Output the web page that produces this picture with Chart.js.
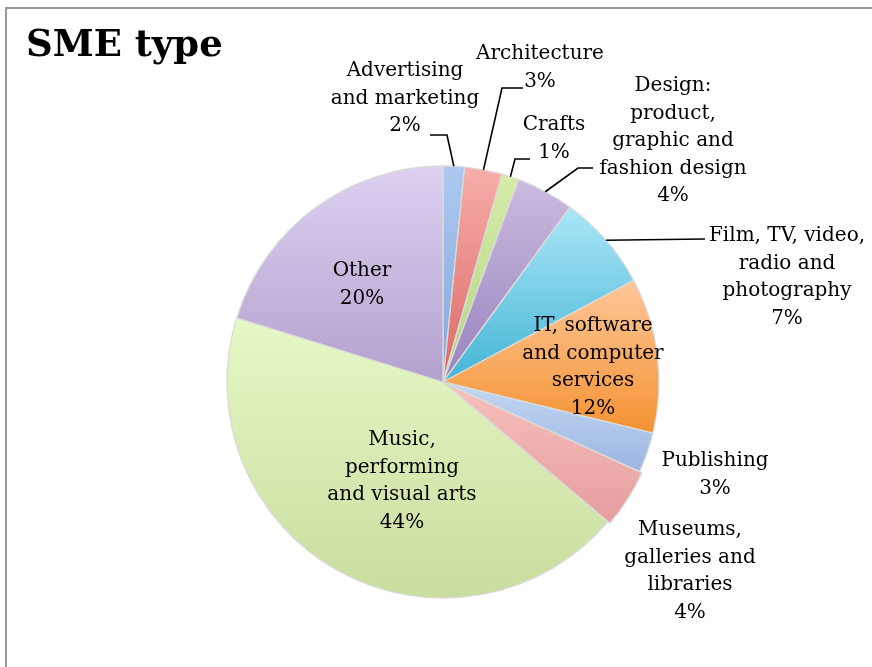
<!DOCTYPE html>
<html><head><meta charset="utf-8">
<script src="https://cdn.jsdelivr.net/npm/chart.js@4.4.0/dist/chart.umd.min.js"></script>
<style>html,body{margin:0;padding:0;background:#fff;} canvas{display:block;}</style>
</head><body>
<canvas id="c" width="872" height="667"></canvas>
<script>
// ---- data ----
const categories = ["Advertising and marketing","Architecture","Crafts","Design: product, graphic and fashion design","Film, TV, video, radio and photography","IT, software and computer services","Publishing","Museums, galleries and libraries","Music, performing and visual arts","Other"];
const shares = [1.6, 2.8, 1.3, 4.3, 7.2, 11.6, 3.0, 4.4, 43.6, 20.2];
const labelLines = [["Advertising","and marketing"],["Architecture"],["Crafts"],["Design:","product,","graphic and","fashion design"],["Film, TV, video,","radio and","photography"],["IT, software","and computer","services"],["Publishing"],["Museums,","galleries and","libraries"],["Music,","performing","and visual arts"],["Other"]];
const titleText = "SME type";

// ---- styles / layout ----
const colorTop    = ["#adc9f0","#f7aeaa","#d6eca8","#cbbce0","#ace6f8","#fdc799","#c3d7f4","#f8c0be","#e6f8c6","#ddd0f0"];
const colorBottom = ["#83a7dc","#dc6866","#b5d483","#9781bd","#43b5d4","#f59232","#9db6e1","#e59e9d","#cadd9e","#b3a1ce"];
const sliceOffsets = [0,0,0,0,0,0,0,6,0,0];
const PIE_RADIUS = 216;
const LINE_H = 27.5;
// label anchor: centre x, first baseline y; leader: points from label toward slice (slice edge point is added from the arc)
const labelLayout = [
  {x:405, y:76,  leader:[[430,135],[447,135]]},
  {x:540, y:59,  leader:[[523,88],[502,88]]},
  {x:554, y:130, leader:[[530,159],[515,159]]},
  {x:673, y:91,  leader:[[593,168],[578,168]]},
  {x:787, y:241, leader:[[705,239]]},
  {x:593, y:331},
  {x:715, y:466},
  {x:690, y:535},
  {x:402, y:445},
  {x:362, y:276}
];

function sliceGradient(c){
  const chart = c.chart, ca = chart.chartArea, i = c.dataIndex;
  if(!ca) return colorBottom[i];
  const total = shares.reduce((a,b)=>a+b,0);
  let cum = 0; for(let k=0;k<i;k++) cum += shares[k];
  const a0 = -Math.PI/2 + cum/total*2*Math.PI, a1 = a0 + shares[i]/total*2*Math.PI;
  const cx = (ca.left+ca.right)/2, cy = (ca.top+ca.bottom)/2, r = PIE_RADIUS;
  const ys = [cy, cy + r*Math.sin(a0), cy + r*Math.sin(a1)];
  for(const t of [-Math.PI/2, Math.PI/2, 3*Math.PI/2]) if(t>=a0 && t<=a1) ys.push(cy + r*Math.sin(t));
  const y0 = Math.min(...ys), y1 = Math.max(...ys);
  const g = chart.ctx.createLinearGradient(0, y0, 0, y1 + 0.01);
  g.addColorStop(0, colorTop[i]); g.addColorStop(1, colorBottom[i]);
  return g;
}

const framePlugin = {
  id:'frame',
  beforeDraw(chart){
    const ctx = chart.ctx;
    ctx.save();
    ctx.fillStyle = '#fff'; ctx.fillRect(0,0,chart.width,chart.height);
    ctx.strokeStyle = '#9a9a9a'; ctx.lineWidth = 2;
    ctx.beginPath(); ctx.moveTo(6, chart.height); ctx.lineTo(6, 8); ctx.lineTo(chart.width, 8); ctx.stroke();
    ctx.fillStyle = '#000';
    ctx.font = 'bold 37px "DejaVu Serif"';
    ctx.textBaseline = 'alphabetic'; ctx.textAlign = 'left';
    ctx.fillText(titleText, 26, 56);
    ctx.restore();
  }
};

const labelPlugin = {
  id:'sliceLabels',
  afterDatasetsDraw(chart){
    const ctx = chart.ctx, meta = chart.getDatasetMeta(0);
    const total = shares.reduce((a,b)=>a+b,0);
    ctx.save();
    ctx.fillStyle = '#000'; ctx.strokeStyle = '#000'; ctx.lineWidth = 1.6;
    ctx.font = '20px "DejaVu Serif"';
    ctx.textAlign = 'center'; ctx.textBaseline = 'alphabetic';
    meta.data.forEach((arc, i) => {
      const L = labelLayout[i];
      const lines = labelLines[i].concat([Math.round(shares[i]/total*100) + '%']);
      lines.forEach((t, k) => ctx.fillText(t, L.x, L.y + k*LINE_H));
      if(L.leader){
        const p = arc.getProps(['x','y','startAngle','endAngle','outerRadius'], true);
        const mid = (p.startAngle + p.endAngle)/2;
        const ex = p.x + Math.cos(mid)*p.outerRadius, ey = p.y + Math.sin(mid)*p.outerRadius;
        ctx.beginPath();
        ctx.moveTo(L.leader[0][0], L.leader[0][1]);
        for(let k=1;k<L.leader.length;k++) ctx.lineTo(L.leader[k][0], L.leader[k][1]);
        ctx.lineTo(ex, ey);
        ctx.stroke();
      }
    });
    ctx.restore();
  }
};

new Chart(document.getElementById('c'), {
  type:'pie',
  data:{
    labels: categories,
    datasets:[{
      data: shares,
      backgroundColor: sliceGradient,
      borderColor: '#dadada',
      borderWidth: 1.3,
      offset: sliceOffsets,
      radius: PIE_RADIUS
    }]
  },
  options:{
    responsive:false,
    animation:false,
    events:[],
    layout:{padding:{left:227,right:213,top:166,bottom:69}},
    plugins:{legend:{display:false}, tooltip:{enabled:false}, title:{display:false}}
  },
  plugins:[framePlugin, labelPlugin]
});
</script>
</body></html>
